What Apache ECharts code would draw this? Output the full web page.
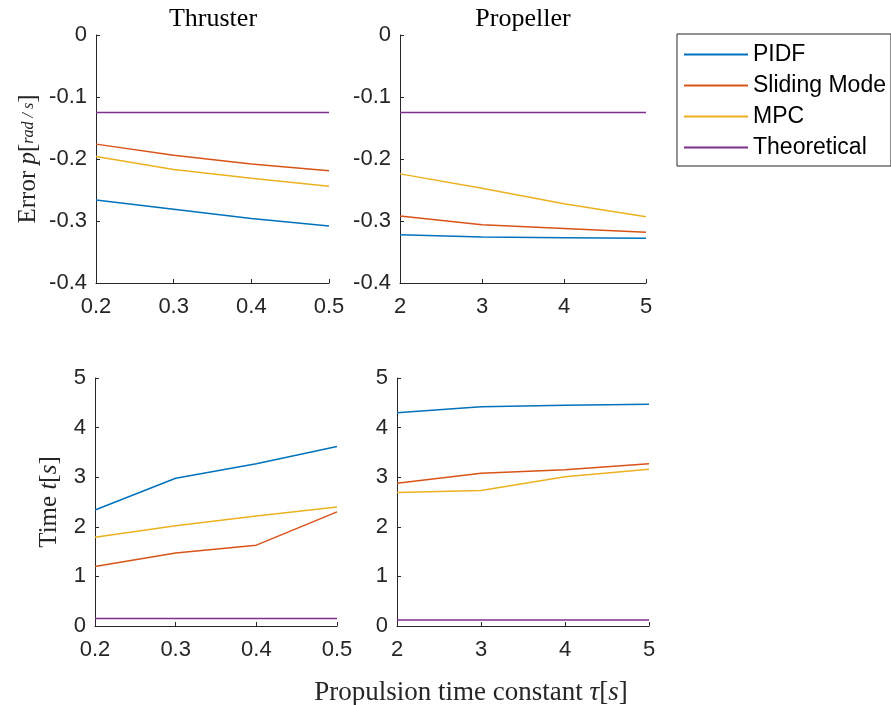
<!DOCTYPE html>
<html>
<head>
<meta charset="utf-8">
<script src="https://cdn.jsdelivr.net/npm/echarts@6/dist/echarts.min.js"></script>
<style>html,body{margin:0;padding:0;background:#fff}#c{width:891px;height:705px}</style>
</head>
<body>
<div id="c"></div>
<script>
// ---- data ----
const seriesNames = ['PIDF', 'Sliding Mode', 'MPC', 'Theoretical'];
const thrusterTau = [0.2, 0.3, 0.4, 0.5];
const propellerTau = [2, 3, 4, 5];
// Error p [rad/s]
const errThrusterPIDF = [-0.266, -0.281, -0.296, -0.308];
const errThrusterSMC = [-0.176, -0.194, -0.208, -0.219];
const errThrusterMPC = [-0.196, -0.217, -0.231, -0.244];
const errThrusterTheo = [-0.125, -0.125, -0.125, -0.125];
const errPropPIDF = [-0.322, -0.326, -0.327, -0.328];
const errPropSMC = [-0.292, -0.306, -0.312, -0.318];
const errPropMPC = [-0.224, -0.247, -0.272, -0.293];
const errPropTheo = [-0.125, -0.125, -0.125, -0.125];
// Time t [s]
const timeThrusterPIDF = [2.34, 2.98, 3.27, 3.62];
const timeThrusterSMC = [1.20, 1.47, 1.63, 2.30];
const timeThrusterMPC = [1.79, 2.02, 2.22, 2.40];
const timeThrusterTheo = [0.15, 0.15, 0.15, 0.15];
const timePropPIDF = [4.30, 4.42, 4.45, 4.47];
const timePropSMC = [2.88, 3.08, 3.15, 3.27];
const timePropMPC = [2.69, 2.73, 3.01, 3.16];
const timePropTheo = [0.12, 0.12, 0.12, 0.12];
const errTicks = [-0.4, -0.3, -0.2, -0.1, 0];
const timeTicks = [0, 1, 2, 3, 4, 5];

const colors = ['#0072BD', '#D95319', '#EDB120', '#7E2F8E'];
const tickFont = {fontFamily: 'Liberation Sans, Arial, sans-serif', fontSize: 22, color: '#262626'};
const serif = 'Liberation Serif, DejaVu Serif, serif';

const grids = [
  {left: 96, top: 35, width: 233, height: 248},
  {left: 400, top: 35, width: 246, height: 248},
  {left: 95, top: 378, width: 242, height: 248},
  {left: 397, top: 378, width: 252, height: 248}
];

function xAx(i, xs) {
  const step = xs[1] - xs[0];
  return {
    type: 'value', gridIndex: i, min: xs[0], max: xs[xs.length - 1], interval: step,
    axisLine: {show: true, onZero: false, lineStyle: {color: '#262626', width: 1}},
    axisTick: {show: true, inside: true, length: 4, lineStyle: {color: '#262626'}},
    axisLabel: Object.assign({margin: 13, formatter: v => String(+v.toFixed(2))}, tickFont),
    splitLine: {show: false}
  };
}
function yAx(i, ticks, name, gap) {
  const o = {
    type: 'value', gridIndex: i, min: ticks[0], max: ticks[ticks.length - 1],
    interval: ticks[1] - ticks[0],
    axisLine: {show: true, onZero: false, lineStyle: {color: '#262626', width: 1}},
    axisTick: {show: true, inside: true, length: 4, lineStyle: {color: '#262626'}},
    axisLabel: Object.assign({margin: 9, formatter: v => String(+v.toFixed(2))}, tickFont),
    splitLine: {show: false}
  };
  if (name) {
    o.name = name;
    o.nameLocation = 'middle';
    o.nameRotate = 90;
    o.nameGap = gap;
    o.nameTextStyle = {
      fontFamily: serif, fontSize: 25, color: '#262626',
      rich: {
        r: {fontFamily: serif, fontSize: 25, color: '#262626'},
        i: {fontFamily: serif, fontSize: 25, fontStyle: 'italic', color: '#262626'},
        f: {fontFamily: serif, fontSize: 16, fontStyle: 'italic', color: '#262626'}
      }
    };
  }
  return o;
}

const panels = [
  {x: thrusterTau, ys: [errThrusterPIDF, errThrusterSMC, errThrusterMPC, errThrusterTheo]},
  {x: propellerTau, ys: [errPropPIDF, errPropSMC, errPropMPC, errPropTheo]},
  {x: thrusterTau, ys: [timeThrusterPIDF, timeThrusterSMC, timeThrusterMPC, timeThrusterTheo]},
  {x: propellerTau, ys: [timePropPIDF, timePropSMC, timePropMPC, timePropTheo]}
];

const series = [];
panels.forEach((p, gi) => {
  p.ys.forEach((ys, si) => {
    series.push({
      name: seriesNames[si], type: 'line', xAxisIndex: gi, yAxisIndex: gi,
      data: p.x.map((x, k) => [x, ys[k]]),
      symbol: 'none', showSymbol: false, silent: true, animation: false,
      lineStyle: {color: colors[si], width: 1.5},
      itemStyle: {color: colors[si]}
    });
  });
});

const titleStyle = {fontFamily: serif, fontSize: 26, fontWeight: 'normal', color: '#000'};
const chart = echarts.init(document.getElementById('c'), null, {renderer: 'canvas'});
chart.setOption({
  backgroundColor: '#fff',
  animation: false,
  color: colors,
  grid: grids,
  xAxis: [xAx(0, thrusterTau), xAx(1, propellerTau), xAx(2, thrusterTau), xAx(3, propellerTau)],
  yAxis: [
    yAx(0, errTicks, '{r|Error }{i|p}{r|[}{f|rad / s}{r|]}', 55),
    yAx(1, errTicks),
    yAx(2, timeTicks, '{r|Time }{i|t}{r|[}{i|s}{r|]}', 33),
    yAx(3, timeTicks)
  ],
  title: [
    {text: 'Thruster', left: 208, top: 1, textAlign: 'center', textStyle: titleStyle},
    {text: 'Propeller', left: 518, top: 1, textAlign: 'center', textStyle: titleStyle},
    {text: '{r|Propulsion time constant }{i|τ}{r|[}{i|s}{r|]}', left: 466, top: 674, textAlign: 'center',
     textStyle: {fontFamily: serif, fontSize: 27, fontWeight: 'normal', color: '#262626',
       rich: {r: {fontFamily: serif, fontSize: 27, color: '#262626'},
              i: {fontFamily: serif, fontSize: 27, fontStyle: 'italic', color: '#262626'}}}}
  ],
  legend: {
    data: seriesNames, orient: 'vertical', left: 677, top: 34,
    padding: [9, 5, 7, 6], itemWidth: 64, itemHeight: 20, itemGap: 8,
    borderColor: '#262626', borderWidth: 1, backgroundColor: '#fff',
    selectedMode: false,
    itemStyle: {opacity: 0},
    textStyle: {fontFamily: 'Liberation Sans, Arial, sans-serif', fontSize: 23, lineHeight: 20, color: '#000'}
  },
  series: series
});
</script>
</body>
</html>
